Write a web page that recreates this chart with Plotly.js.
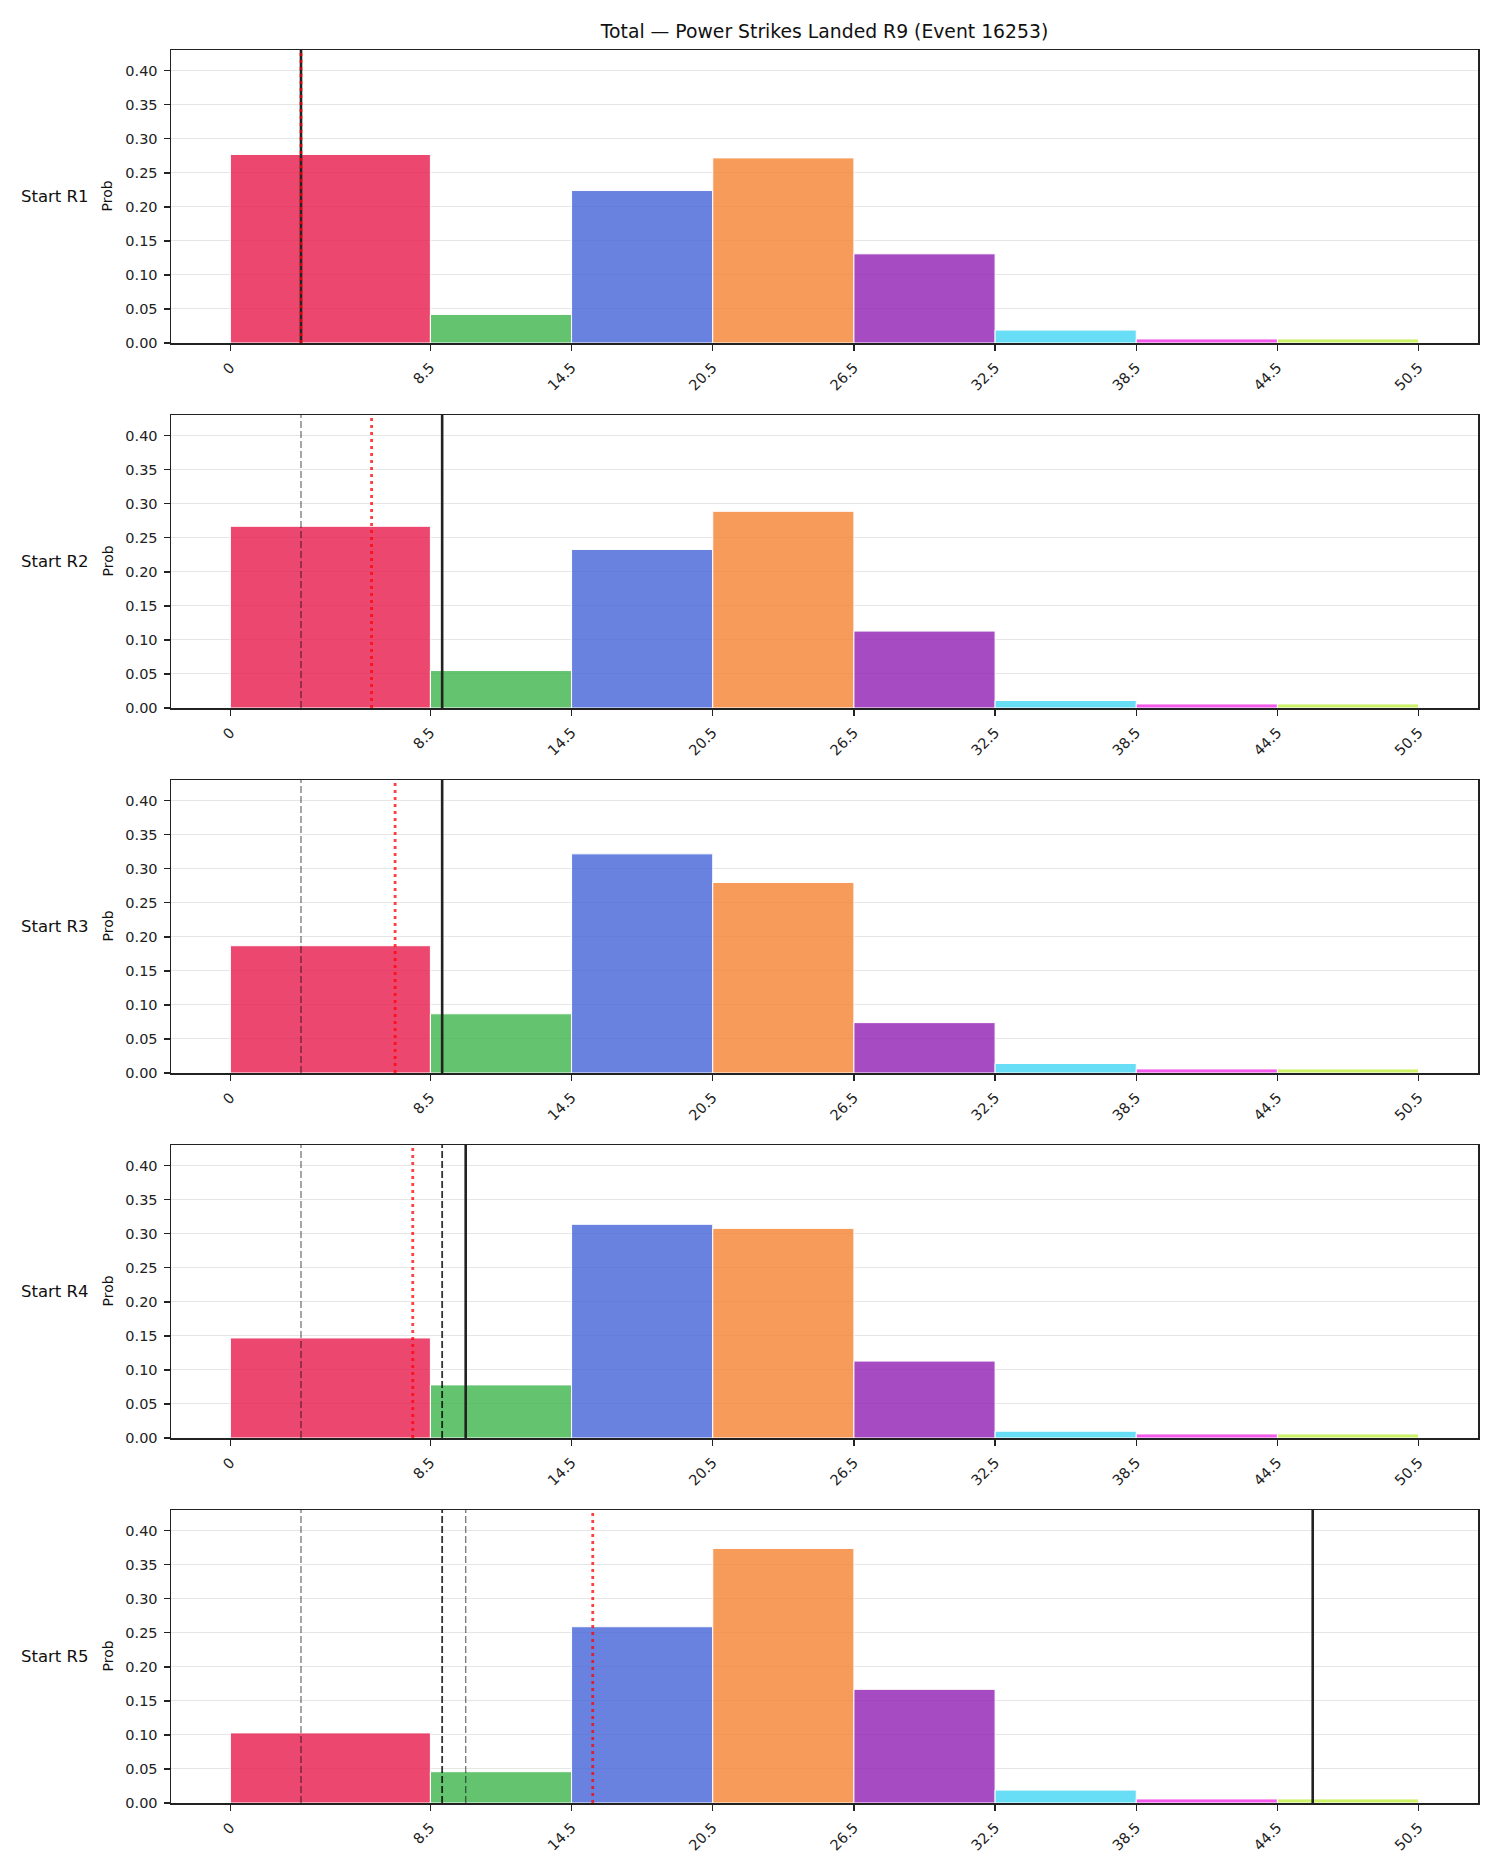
<!DOCTYPE html>
<html>
<head>
<meta charset="utf-8">
<script src="https://cdn.plot.ly/plotly-3.0.1.min.js"></script>
<style>
  html, body { margin: 0; padding: 0; background: #ffffff; }
  #chart { width: 1500px; height: 1875px; }
</style>
</head>
<body>
<div id="chart"></div>
<script>
// Bin edges of the total-strikes distribution and their tick labels
const binEdges = [0, 8.5, 14.5, 20.5, 26.5, 32.5, 38.5, 44.5, 50.5];
const tickLabels = ['0', '8.5', '14.5', '20.5', '26.5', '32.5', '38.5', '44.5', '50.5'];

// Row labels (starting round)
const rowLabels = ['Start R1', 'Start R2', 'Start R3', 'Start R4', 'Start R5'];

// Probability per bin, one array per starting round
const probR1 = [0.277, 0.042, 0.224, 0.272, 0.131, 0.019, 0.006, 0.006];
const probR2 = [0.267, 0.055, 0.233, 0.289, 0.113, 0.011, 0.006, 0.006];
const probR3 = [0.187, 0.087, 0.322, 0.280, 0.074, 0.014, 0.006, 0.006];
const probR4 = [0.147, 0.078, 0.314, 0.308, 0.113, 0.010, 0.006, 0.006];
const probR5 = [0.103, 0.046, 0.259, 0.374, 0.167, 0.019, 0.006, 0.006];

// Reference lines per row
const greyDashed  = [[3], [3], [3], [3], [3, 10]];
const blackDashed = [[], [], [], [9], [9]];
const solidLine   = [3, 9, 9, 10, 46];
const redDotted   = [3, 6, 7, 7.75, 15.4];

// Bin colours
const binColors = ['#e6194B', '#3cb44b', '#4363d8', '#f58231', '#911eb4', '#42d4f4', '#f032e6', '#bfef45'];

function withAlpha(hex, a) {
  const r = parseInt(hex.slice(1, 3), 16), g = parseInt(hex.slice(3, 5), 16), b = parseInt(hex.slice(5, 7), 16);
  return `rgba(${r},${g},${b},${a})`;
}

const probs = [probR1, probR2, probR3, probR4, probR5];
const centers = binEdges.slice(0, -1).map((e, i) => (e + binEdges[i + 1]) / 2);
const widths = binEdges.slice(0, -1).map((e, i) => binEdges[i + 1] - e);

// Pixel geometry of the stacked panels
const W = 1500, H = 1875;
const mL = 171, mR = 22, mT = 50, mB = 72;
const plotH = H - mT - mB;     // 1753
const panelH = 293, panelStep = 365;
const yMax = 0.4305;

const tickFont = { family: 'DejaVu Sans', size: 14.5, color: '#222222' };

const data = [];
const shapes = [];
const annotations = [];
const layout = {
  width: W, height: H,
  margin: { l: mL, r: mR, t: mT, b: mB, pad: 0 },
  paper_bgcolor: '#ffffff',
  plot_bgcolor: '#ffffff',
  showlegend: false,
  font: { family: 'DejaVu Sans', size: 14, color: '#222222' },
  title: {
    text: 'Total — Power Strikes Landed R9 (Event 16253)',
    font: { family: 'DejaVu Sans', size: 18.8, color: '#111111' },
    x: 0.5, xref: 'paper', xanchor: 'center',
    y: 1 - 31 / H, yref: 'container', yanchor: 'middle'
  },
  shapes: shapes,
  annotations: annotations
};

probs.forEach((vals, i) => {
  const n = i + 1;
  const xa = 'x' + (n === 1 ? '' : n);
  const ya = 'y' + (n === 1 ? '' : n);
  const top = mT + panelStep * i;
  const bottom = top + panelH;
  const domain = [(H - mB - bottom) / plotH, (H - mB - top) / plotH];

  data.push({
    type: 'bar',
    x: centers,
    y: vals,
    width: widths,
    xaxis: xa, yaxis: ya,
    marker: {
      color: binColors.map(c => withAlpha(c, 0.8)),
      line: { color: '#ffffff', width: 1 }
    },
    hoverinfo: 'skip'
  });

  layout['xaxis' + (n === 1 ? '' : n)] = {
    anchor: ya,
    domain: [0, 1],
    range: [-2.525, 53.025],
    tickmode: 'array',
    tickvals: binEdges,
    ticktext: tickLabels,
    tickangle: -45,
    ticks: 'outside', ticklen: 6, tickwidth: 1.3, tickcolor: '#222222',
    ticklabelstandoff: 3,
    tickfont: tickFont,
    showgrid: false, zeroline: false,
    showline: true, mirror: true, linecolor: '#222222', linewidth: 1.5
  };
  layout['yaxis' + (n === 1 ? '' : n)] = {
    anchor: xa,
    domain: domain,
    range: [0, yMax],
    dtick: 0.05, tick0: 0,
    tickformat: '.2f',
    ticks: 'outside', ticklen: 6, tickwidth: 1.3, tickcolor: '#222222',
    ticklabelstandoff: 3,
    tickfont: tickFont,
    showgrid: true, gridcolor: '#e6e6e6', gridwidth: 1,
    zeroline: false,
    showline: true, mirror: true, linecolor: '#222222', linewidth: 1.5
  };

  const vline = (xv, color, width, dash) => shapes.push({
    type: 'line', xref: xa, yref: ya + ' domain',
    x0: xv, x1: xv, y0: 0, y1: 1,
    line: { color: color, width: width, dash: dash },
    layer: 'above'
  });
  greyDashed[i].forEach(v => vline(v, 'rgba(0,0,0,0.5)', 1.4, '7px,3px'));
  blackDashed[i].forEach(v => vline(v, 'rgba(0,0,0,0.8)', 1.8, '7px,3px'));
  vline(solidLine[i], '#222222', 2.6, 'solid');
  vline(redDotted[i], 'rgba(255,0,0,0.75)', 2.8, '3px,4px');

  // Row label and y-axis label
  annotations.push({
    text: rowLabels[i],
    xref: 'paper', yref: ya + ' domain',
    x: (91 - mL) / (W - mL - mR), y: 0.5,
    xanchor: 'right', yanchor: 'middle',
    showarrow: false,
    font: { family: 'DejaVu Sans', size: 16.5, color: '#111111' }
  });
  annotations.push({
    text: 'Prob',
    xref: 'paper', yref: ya + ' domain',
    x: (107 - mL) / (W - mL - mR), y: 0.5,
    xanchor: 'center', yanchor: 'middle',
    textangle: -90,
    showarrow: false,
    font: { family: 'DejaVu Sans', size: 14, color: '#111111' }
  });
});

Plotly.newPlot('chart', data, layout, { staticPlot: true, displayModeBar: false });
</script>
</body>
</html>
